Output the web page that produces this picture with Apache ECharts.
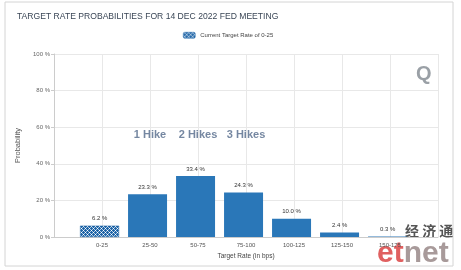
<!DOCTYPE html>
<html><head><meta charset="utf-8">
<script src="https://cdn.jsdelivr.net/npm/echarts@6/dist/echarts.min.js"></script>
<style>html,body{margin:0;padding:0;background:#fff}#c{width:461px;height:270px}</style>
</head><body><div id="c"></div>
<script>
const categories = ['0-25','25-50','50-75','75-100','100-125','125-150','150-175'];
const probabilities = [6.2, 23.3, 33.4, 24.3, 10.0, 2.4, 0.3];
const yTicks = [0, 20, 40, 60, 80, 100];
const hikeLabels = [['1 Hike', 1], ['2 Hikes', 2], ['3 Hikes', 3]];
const currentIndex = 0;

const BLUE = '#2a77b8';
const HATCH = '#1f64a6';
function hatch() {
  const c = document.createElement('canvas');
  c.width = 4; c.height = 4;
  const g = c.getContext('2d');
  g.fillStyle = HATCH; g.fillRect(0,0,4,4);
  g.fillStyle = '#ffffff';
  g.fillRect(1,0,1,1); g.fillRect(3,2,1,1);
  g.fillStyle = '#a9c6e2';
  g.fillRect(0,1,1,1); g.fillRect(2,1,1,1); g.fillRect(2,3,1,1); g.fillRect(0,3,1,1);
  return c;
}
const pat = {image: hatch(), repeat: 'repeat'};

const chart = echarts.init(document.getElementById('c'));
const F = 'Arial, "Liberation Sans", sans-serif';
chart.setOption({
  animation: false,
  textStyle: {fontFamily: F},
  title: {text: 'TARGET RATE PROBABILITIES FOR 14 DEC 2022 FED MEETING', left: 17, top: 12, padding: 0,
    textStyle: {fontSize: 8.6, fontWeight: 'normal', color: '#3a4656', fontFamily: F}},
  legend: {show: true, top: 32, left: 183, padding: 0, itemWidth: 12, itemHeight: 6, itemGap: 3,
    textStyle: {fontSize: 6, color: '#444'}, data: [{name: 'Current Target Rate of 0-25', itemStyle: {color: pat, borderColor: HATCH, borderWidth: 0.5}}]},
  grid: {left: 54, right: 23, top: 54, bottom: 33},
  xAxis: {type: 'value', min: -1, max: 7, interval: 1,
    name: 'Target Rate (in bps)', nameLocation: 'middle', nameGap: 15,
    nameTextStyle: {fontSize: 6.5, color: '#444'},
    axisLine: {show: true, onZero: false, lineStyle: {color: '#ccc'}}, axisTick: {show: false},
    splitLine: {show: true, lineStyle: {color: '#e8e8e8'}},
    axisLabel: {fontSize: 6, color: '#555', margin: 5,
      formatter: v => (v >= 0 && v < categories.length) ? categories[v] : ''}},
  yAxis: {type: 'value', min: 0, max: 100, interval: 20,
    name: 'Probability', nameLocation: 'middle', nameGap: 27, nameRotate: 90,
    nameTextStyle: {fontSize: 7.5, color: '#555'},
    axisLine: {show: true, onZero: false, lineStyle: {color: '#ccc'}},
    axisTick: {show: true, length: 3, lineStyle: {color: '#ccc'}},
    splitLine: {lineStyle: {color: '#e8e8e8'}},
    axisLabel: {fontSize: 6, color: '#666', margin: 4, formatter: v => v + ' %'}},
  series: [
    {type: 'bar', name: 'probs', barWidth: 39,
     data: probabilities.map((v, i) => ({value: [i, v], itemStyle: i === currentIndex ? {color: pat, borderColor: HATCH, borderWidth: 0.5} : {color: BLUE}})),
     label: {show: true, position: 'top', fontSize: 6, color: '#333', distance: 4,
       formatter: p => p.value[1].toFixed(1) + ' %'}},
    {type: 'scatter', name: 'hikes', symbolSize: 0, silent: true,
     data: hikeLabels.map(h => [h[1], 56]),
     label: {show: true, position: 'inside', fontSize: 11, fontWeight: 'bold', color: '#52698a',
       formatter: p => hikeLabels[p.dataIndex][0]}},
    {type: 'bar', name: 'Current Target Rate of 0-25', data: [], itemStyle: {color: pat}}
  ],
  graphic: [
    {type: 'rect', shape: {x: 5, y: 2, width: 448, height: 264}, style: {fill: 'none', stroke: '#d4d4d4', lineWidth: 1}, silent: true},
    {type: 'text', left: 416, top: 64, style: {text: 'Q', font: 'bold 20px Arial', fill: '#9aa0a6'}},
    {type: 'text', left: 405, top: 224, style: {text: '经 济 通', font: 'bold 14px "Noto Sans CJK SC"', fill: '#555'}},
    {type: 'text', left: 377, top: 239, style: {text: '{a|et}{b|net}', font: 'bold 30px Arial',
      rich: {a: {font: 'bold 30px Arial', fill: '#e06060'}, b: {font: 'bold 30px Arial', fill: '#a89a9a'}}}}
  ]
});
</script></body></html>
